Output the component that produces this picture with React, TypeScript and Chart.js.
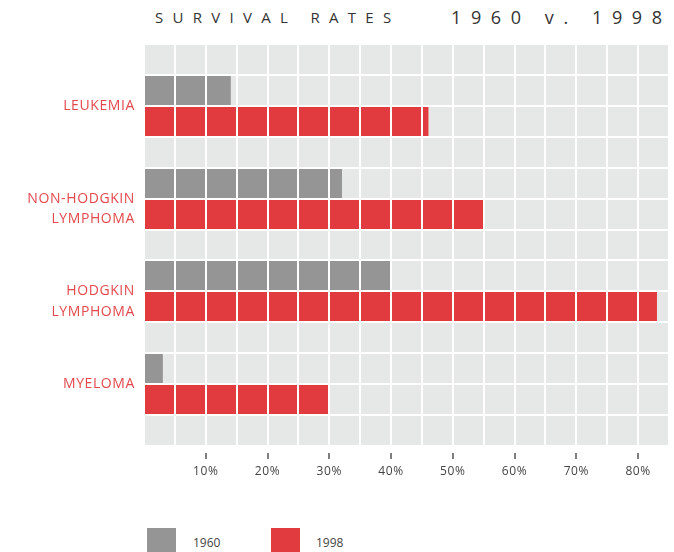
import React, { useEffect, useRef } from 'react';
import { Chart, registerables } from 'chart.js';

Chart.register(...registerables);

// ---- data ----
const categories: string[][] = [
  ['LEUKEMIA'],
  ['NON-HODGKIN', 'LYMPHOMA'],
  ['HODGKIN', 'LYMPHOMA'],
  ['MYELOMA'],
];
const seriesNames = ['1960', '1998'];
const rates1960 = [14, 32, 40, 3];
const rates1998 = [46, 55, 83, 30];
const xTickValues = [10, 20, 30, 40, 50, 60, 70, 80];
const xMax = 85;
const titleLeft = 'SURVIVAL RATES';
const titleRight = '1960 v. 1998';

// ---- styles ----
const GRAY = '#959595';
const RED = '#e13a3f';
const LABEL_RED = '#e4484d';
const PLOT_BG = '#e6e7e7';
const FONT = '"Open Sans", "Noto Sans", sans-serif';
const seriesColors = [GRAY, RED];

if (typeof document !== 'undefined') {
  document.body.style.margin = '0';
}

const plotBg = {
  id: 'plotBg',
  beforeDraw(chart: any) {
    const { ctx, chartArea } = chart;
    if (!chartArea) return;
    ctx.save();
    ctx.fillStyle = PLOT_BG;
    ctx.fillRect(chartArea.left, chartArea.top, chartArea.width, chartArea.height);
    ctx.restore();
  },
};

const labelSpacing = {
  id: 'labelSpacing',
  beforeDraw(chart: any) {
    chart.ctx.letterSpacing = '0.6px';
  },
  afterDraw(chart: any) {
    chart.ctx.letterSpacing = '0px';
  },
};

export default function App() {
  const ref = useRef<HTMLCanvasElement | null>(null);

  useEffect(() => {
    if (!ref.current) return;
    const rowsPerCat = 3;
    const yMax = categories.length * rowsPerCat + 1;
    const series = [rates1960, rates1998];
    const chart = new Chart(ref.current, {
      type: 'bar',
      data: {
        datasets: series.map((vals, s) => ({
          label: seriesNames[s],
          data: vals.map((v, i) => ({ x: v, y: i * rowsPerCat + 1.5 + s })),
          backgroundColor: seriesColors[s],
          borderWidth: 0,
          barPercentage: 1,
          categoryPercentage: 1,
          grouped: false,
        })),
      } as any,
      options: {
        indexAxis: 'y',
        animation: false,
        responsive: false,
        maintainAspectRatio: false,
        layout: { padding: { top: 44, right: 3, left: 0, bottom: 0 } },
        plugins: {
          legend: { display: false },
          tooltip: { enabled: false },
          title: { display: false },
        },
        scales: {
          x: {
            type: 'linear',
            min: 0,
            max: xMax,
            offset: false,
            afterFit: (s: any) => {
              s.height = 54;
            },
            border: { display: false },
            grid: {
              z: 1,
              offset: false,
              color: '#ffffff',
              lineWidth: 2,
              drawTicks: true,
              tickLength: 13,
              tickWidth: 1.5,
              tickBorderDash: [0, 7, 6, 60],
              tickColor: (ctx: any) =>
                ctx.tick && xTickValues.includes(Number(ctx.tick.value)) ? '#555555' : 'rgba(0,0,0,0)',
            },
            ticks: {
              stepSize: 5,
              autoSkip: false,
              maxRotation: 0,
              padding: 5,
              color: '#444444',
              font: { family: FONT, size: 12 },
              callback: (v: any) => (xTickValues.includes(Number(v)) ? `${v}%` : ''),
            },
          },
          y: {
            type: 'linear',
            reverse: true,
            min: 0,
            max: yMax,
            offset: false,
            afterFit: (s: any) => {
              s.width = 144;
            },
            border: { display: false },
            grid: { z: 1, offset: false, color: '#ffffff', lineWidth: 2, drawTicks: false },
            ticks: {
              stepSize: 1,
              autoSkip: false,
              padding: 9,
              color: LABEL_RED,
              font: { family: FONT, size: 14, lineHeight: 1.45 },
              callback: (v: any) => {
                const k = Number(v);
                if (k >= 2 && (k - 2) % rowsPerCat === 0) {
                  const lines = categories[(k - 2) / rowsPerCat];
                  if (!lines) return '';
                  return lines.length > 1 ? ['', ...lines] : lines[0];
                }
                return '';
              },
            },
          },
        },
      } as any,
      plugins: [plotBg, labelSpacing],
    });
    return () => chart.destroy();
  }, []);

  return (
    <div style={{ position: 'relative', width: 674, height: 552, overflow: 'hidden', background: '#fff' }}>
      <div
        style={{
          position: 'absolute',
          left: 155,
          top: 10,
          font: `15px ${FONT}`,
          lineHeight: '15px',
          letterSpacing: '9.3px',
          color: '#333',
          whiteSpace: 'nowrap',
        }}
      >
        {titleLeft}
      </div>
      <div
        style={{
          position: 'absolute',
          left: 451,
          top: 8,
          font: `18px ${FONT}`,
          lineHeight: '18px',
          letterSpacing: '9.6px',
          color: '#333',
          whiteSpace: 'nowrap',
        }}
      >
        {titleRight}
      </div>
      <canvas ref={ref} width={674} height={500} style={{ position: 'absolute', left: 0, top: 0, width: 674, height: 500 }} />
      {seriesNames.map((name, i) => (
        <div key={name}>
          <div
            style={{
              position: 'absolute',
              left: 147 + i * 124,
              top: 528,
              width: 29,
              height: 24,
              background: seriesColors[i],
            }}
          />
          <div
            style={{
              position: 'absolute',
              left: 193 + i * 123,
              top: 535,
              font: `12px ${FONT}`,
              lineHeight: '16px',
              color: '#444',
            }}
          >
            {name}
          </div>
        </div>
      ))}
    </div>
  );
}
